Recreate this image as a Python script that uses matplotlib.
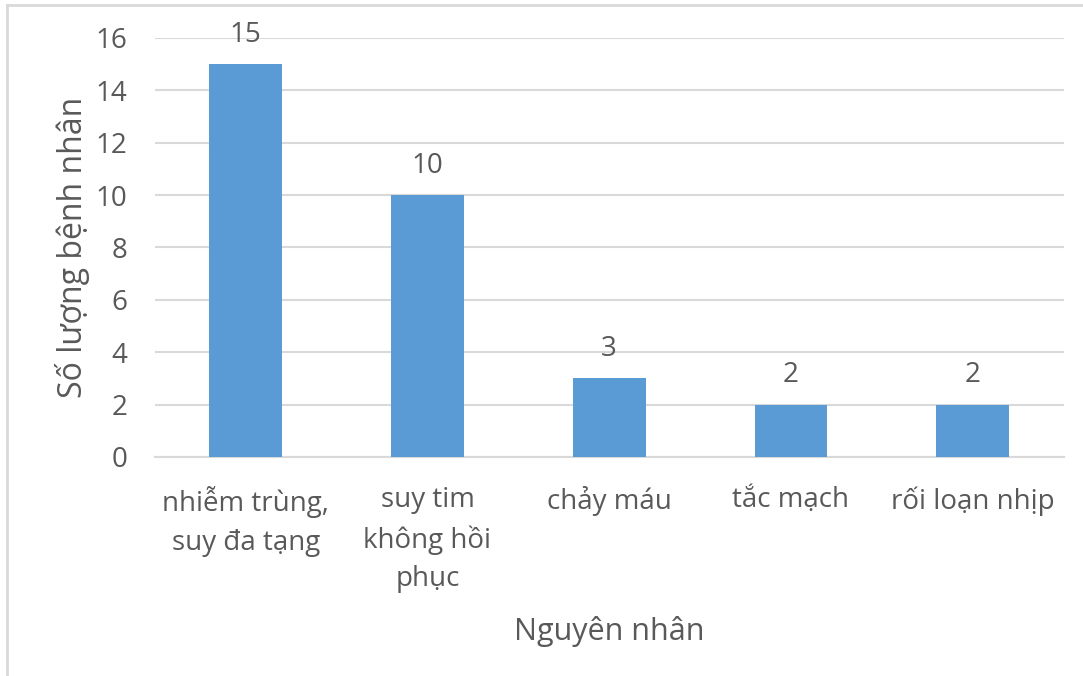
import matplotlib.pyplot as plt
from matplotlib.lines import Line2D

# data
causes = ["nhiễm trùng,\nsuy đa tạng", "suy tim\nkhông hồi\nphục", "chảy máu",
          "tắc mạch", "rối loạn nhịp"]
patients = [15, 10, 3, 2, 2]
y_ticks = list(range(0, 17, 2))

bar_color = "#5B9BD5"
text_color = "#595959"
grid_color = "#D9D9D9"

plt.rcParams["font.family"] = ["Open Sans", "DejaVu Sans"]

fig = plt.figure(figsize=(10.83, 6.76), dpi=100)
ax = fig.add_axes([0.143, 0.324, 0.839, 0.62])

x = range(len(causes))
bars = ax.bar(x, patients, width=0.4, color=bar_color, zorder=3)
ax.bar_label(bars, labels=[str(v) for v in patients], padding=11,
             fontsize=20, color=text_color)

ax.set_xlim(-0.5, len(causes) - 0.5)
ax.set_ylim(0, 16)
ax.set_yticks(y_ticks)
ax.set_xticks(list(x))
ax.set_xticklabels(causes, fontsize=20, color=text_color, linespacing=1.5)
ax.tick_params(axis="y", labelsize=20, labelcolor=text_color, length=0, pad=20)
ax.tick_params(axis="x", length=0, pad=21)

ax.grid(axis="y", color=grid_color, linewidth=1.5, zorder=0)
for s in ["top", "right", "left"]:
    ax.spines[s].set_visible(False)
ax.spines["bottom"].set_color(grid_color)
ax.spines["bottom"].set_linewidth(1.5)

ax.set_ylabel("Số lượng bệnh nhân", fontsize=23, color=text_color, labelpad=4)
ax.set_xlabel("Nguyên nhân", fontsize=22, color=text_color, labelpad=16)

# outer frame (top and left edges only visible)
fig.add_artist(Line2D([0.0065, 1.0], [0.993, 0.993], color="#D9D9D9", lw=2,
                      transform=fig.transFigure))
fig.add_artist(Line2D([0.0065, 0.0065], [0.0, 0.993], color="#D9D9D9", lw=2,
                      transform=fig.transFigure))

fig.savefig("out.png", dpi=100)
